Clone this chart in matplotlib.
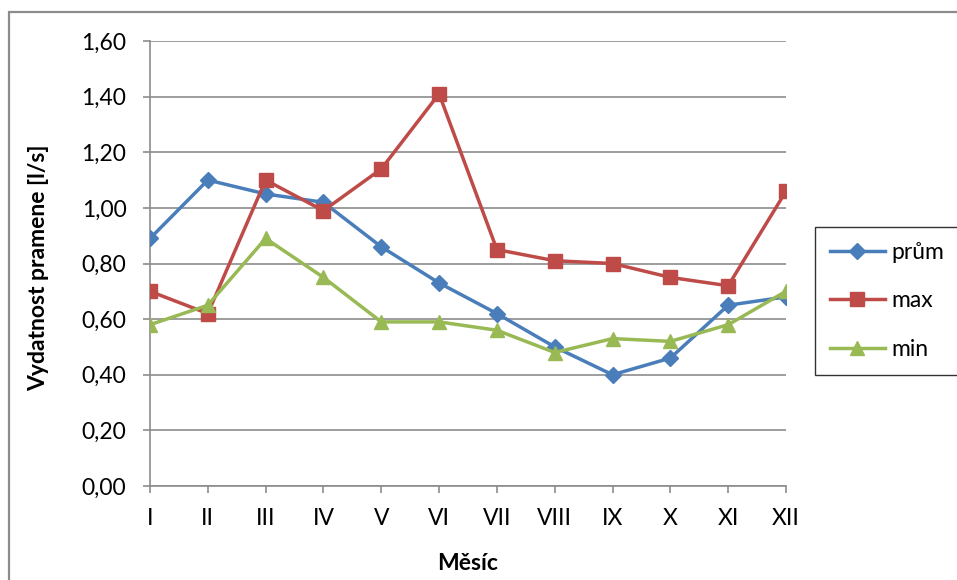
import matplotlib
matplotlib.use("Agg")
import matplotlib.pyplot as plt
from matplotlib.patches import Rectangle
from matplotlib.ticker import FuncFormatter, MultipleLocator

plt.rcParams['font.family'] = ['Lato', 'DejaVu Sans']

mesice = ['I', 'II', 'III', 'IV', 'V', 'VI', 'VII', 'VIII', 'IX', 'X', 'XI', 'XII']
prum = [0.89, 1.10, 1.05, 1.02, 0.86, 0.73, 0.62, 0.50, 0.40, 0.46, 0.65, 0.68]
maxi = [0.70, 0.62, 1.10, 0.99, 1.14, 1.41, 0.85, 0.81, 0.80, 0.75, 0.72, 1.06]
mini = [0.58, 0.65, 0.89, 0.75, 0.59, 0.59, 0.56, 0.48, 0.53, 0.52, 0.58, 0.70]

W, H = 957, 580
fig = plt.figure(figsize=(W / 100, H / 100), dpi=100)
ax = fig.add_axes([150 / W, 1 - 486 / H, 636 / W, 445 / H])

# chart frame around the whole figure
fig.patches.append(Rectangle((9 / W, -0.1), 1.2, 1.1 - 12 / H,
                             transform=fig.transFigure, fill=False,
                             edgecolor='#8c8c8c', linewidth=1.6, zorder=0))

x = list(range(len(mesice)))
ax.plot(x, prum, color='#4A7EBB', lw=2.5, marker='D', ms=8.5, label='prům', zorder=3)
ax.plot(x, maxi, color='#BE4B48', lw=2.5, marker='s', ms=9.5, label='max', zorder=3)
ax.plot(x, mini, color='#98B954', lw=2.5, marker='^', ms=10, label='min', zorder=3)

ax.set_xlim(0, len(mesice) - 1)
ax.set_ylim(0, 1.6)
ax.yaxis.set_major_locator(MultipleLocator(0.2))
ax.yaxis.set_major_formatter(FuncFormatter(lambda v, p: f'{v:.2f}'.replace('.', ',')))
ax.set_xticks(x)
ax.set_xticklabels(mesice)

ax.grid(axis='y', color='#8c8c8c', lw=1.2)
ax.set_axisbelow(True)
for s in ['top', 'right']:
    ax.spines[s].set_visible(False)
for s in ['left', 'bottom']:
    ax.spines[s].set_color('#8c8c8c')
    ax.spines[s].set_linewidth(1.2)
ax.spines['bottom'].set_zorder(2.5)

ax.tick_params(axis='both', colors='#8c8c8c', labelcolor='black',
               labelsize=16.5, length=5, width=1.2)
ax.tick_params(axis='y', pad=12)
ax.tick_params(axis='x', pad=11)

ax.set_ylabel('Vydatnost pramene [l/s]', fontsize=16.5, fontweight='bold')
ax.yaxis.set_label_coords(-0.159, 0.491)
ax.set_xlabel('Měsíc', fontsize=16.5, fontweight='bold')
ax.xaxis.set_label_coords(0.5, -0.15)

leg = fig.legend(loc='upper left', bbox_to_anchor=(815 / W, 1 - 227 / H),
                 fontsize=16.5, frameon=True, fancybox=False, edgecolor='black',
                 handlelength=2.4, handletextpad=0.3, labelspacing=1.2,
                 borderpad=0.65, borderaxespad=0)
leg.get_frame().set_linewidth(1.0)

fig.savefig('out.png', dpi=100)
